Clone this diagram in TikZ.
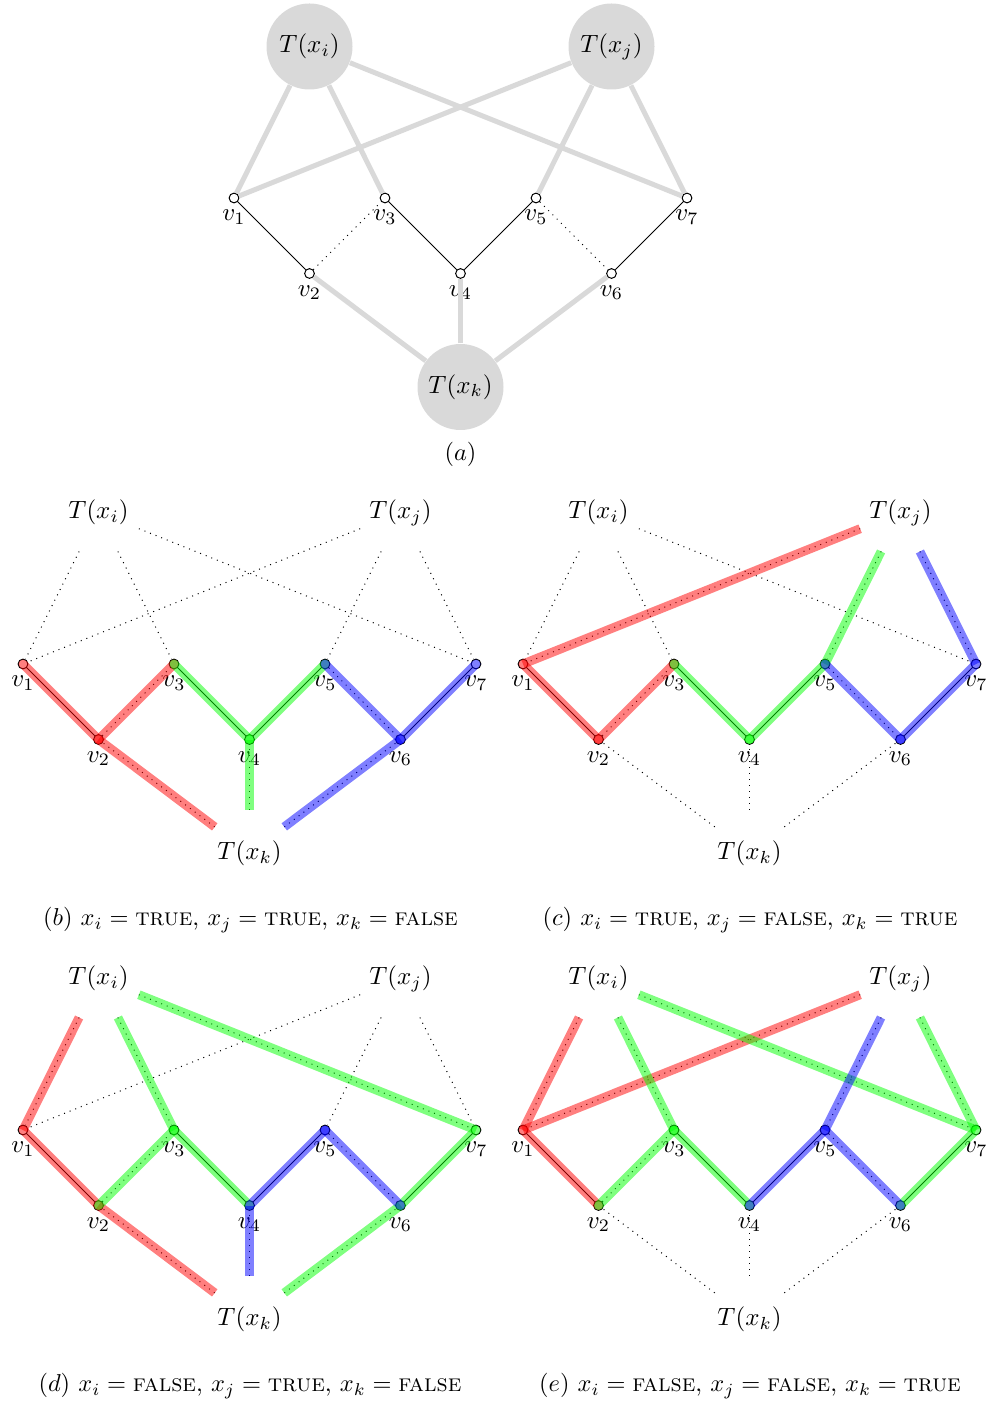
\documentclass[tikz,border=0pt]{standalone}
\usetikzlibrary{calc}
\definecolor{hlr}{rgb}{1,0,0}
\definecolor{hlg}{rgb}{0,1,0}
\definecolor{hlb}{rgb}{0,0,1}
\definecolor{tgray}{gray}{0.85}
\tikzset{
 vtx/.style={circle,draw,fill=white,inner sep=0pt,minimum size=3.9pt,line width=0.4pt},
 vlab/.style={inner sep=0pt},
 tbig/.style={circle,fill=tgray,inner sep=0pt,minimum size=34.4pt},
 tplain/.style={circle,inner sep=0pt,minimum size=34.4pt},
 gline/.style={draw=tgray,line width=2pt},
 sline/.style={line width=0.4pt},
 dline/.style={line width=0.4pt,dotted},
 hl/.style={draw=#1,draw opacity=0.5,line width=3.6pt,line cap=round},
 hlt/.style={draw=#1,draw opacity=0.5,line width=3.6pt,line cap=butt},
 capt/.style={inner sep=0pt,scale=0.976},
}
\newcommand{\vnodes}[1]{%
 \node[vtx] (#1v1) at (0,0) {};
 \node[vtx] (#1v2) at (75.5,75.5) {};
 \node[vtx] (#1v3) at (151,0) {};
 \node[vtx] (#1v4) at (226.5,75.5) {};
 \node[vtx] (#1v5) at (302,0) {};
 \node[vtx] (#1v6) at (377.5,75.5) {};
 \node[vtx] (#1v7) at (453,0) {};
 \node[vlab] (#1l1) at (0,19) {$v_1$};
 \node[vlab] (#1l2) at (75.5,94.5) {$v_2$};
 \node[vlab] (#1l3) at (151,19) {$v_3$};
 \node[vlab] (#1l4) at (226.5,94.5) {$v_4$};
 \node[vlab] (#1l5) at (302,19) {$v_5$};
 \node[vlab] (#1l6) at (377.5,94.5) {$v_6$};
 \node[vlab] (#1l7) at (453,19) {$v_7$};
}
\newcommand{\vedges}[1]{%
 \draw[sline] (#1v1) -- (#1v2);
 \draw[dline] (#1v2) -- (#1v3);
 \draw[sline] (#1v3) -- (#1v4);
 \draw[sline] (#1v4) -- (#1v5);
 \draw[dline] (#1v5) -- (#1v6);
 \draw[sline] (#1v6) -- (#1v7);
}
\newcommand{\tplainnodes}[1]{%
 \node[tplain] (#1ti) at (75.5,-151.5) {$T(x_i)$};
 \node[tplain] (#1tj) at (377.5,-151.5) {$T(x_j)$};
 \node[tplain] (#1tk) at (226.5,189) {$T(x_k)$};
 \draw[dline] (#1ti) -- (#1v1);
 \draw[dline] (#1ti) -- (#1v3);
 \draw[dline] (#1ti) -- (#1v7);
 \draw[dline] (#1tj) -- (#1v1);
 \draw[dline] (#1tj) -- (#1v5);
 \draw[dline] (#1tj) -- (#1v7);
 \draw[dline] (#1tk) -- (#1v2);
 \draw[dline] (#1tk) -- (#1v4);
 \draw[dline] (#1tk) -- (#1v6);
}
\begin{document}
\begin{tikzpicture}[x=0.4pt,y=-0.4pt]
\useasboundingbox (0,0) rectangle (991,1403);
% ---------- (a)
\begin{scope}[shift={(234,198)}]
 \node[tbig] (ati) at (75.5,-151.5) {$T(x_i)$};
 \node[tbig] (atj) at (377.5,-151.5) {$T(x_j)$};
 \node[tbig] (atk) at (226.5,189) {$T(x_k)$};
 \vnodes{a}
 \draw[gline] (ati) -- (av1);
 \draw[gline] (ati) -- (av3);
 \draw[gline] (ati) -- (av7);
 \draw[gline] (atj) -- (av1);
 \draw[gline] (atj) -- (av5);
 \draw[gline] (atj) -- (av7);
 \draw[gline] (atk) -- (av2);
 \draw[gline] (atk) -- (av4);
 \draw[gline] (atk) -- (av6);
 \vedges{a}
 \node[capt] (capa) at (226.5,256) {$(a)$};
\end{scope}
% ---------- (b)
\begin{scope}[shift={(23,664)}]
 \vnodes{b}
 \vedges{b}
 \tplainnodes{b}
 \draw[hl=hlr] (bv1.center) -- (bv2.center);
 \draw[hl=hlr] (bv2.center) -- (bv3.center);
 \draw[hlt=hlr] (bv2.center) -- (btk);
 \draw[hl=hlg] (bv3.center) -- (bv4.center);
 \draw[hl=hlg] (bv4.center) -- (bv5.center);
 \draw[hlt=hlg] (bv4.center) -- (btk);
 \draw[hl=hlb] (bv5.center) -- (bv6.center);
 \draw[hl=hlb] (bv6.center) -- (bv7.center);
 \draw[hlt=hlb] (bv6.center) -- (btk);
 \node[capt] (capb) at (227.5,256) {$(b)$ $x_i=\textsc{true}$, $x_j=\textsc{true}$, $x_k=\textsc{false}$};
\end{scope}
% ---------- (c)
\begin{scope}[shift={(523,664)}]
 \vnodes{c}
 \vedges{c}
 \tplainnodes{c}
 \draw[hlt=hlr] (cv1.center) -- (ctj);
 \draw[hl=hlr] (cv1.center) -- (cv2.center);
 \draw[hl=hlr] (cv2.center) -- (cv3.center);
 \draw[hl=hlg] (cv3.center) -- (cv4.center);
 \draw[hl=hlg] (cv4.center) -- (cv5.center);
 \draw[hlt=hlg] (cv5.center) -- (ctj);
 \draw[hl=hlb] (cv5.center) -- (cv6.center);
 \draw[hl=hlb] (cv6.center) -- (cv7.center);
 \draw[hlt=hlb] (cv7.center) -- (ctj);
 \node[capt] (capc) at (227,256) {$(c)$ $x_i=\textsc{true}$, $x_j=\textsc{false}$, $x_k=\textsc{true}$};
\end{scope}
% ---------- (d)
\begin{scope}[shift={(23,1130)}]
 \vnodes{d}
 \vedges{d}
 \tplainnodes{d}
 \draw[hlt=hlr] (dv1.center) -- (dti);
 \draw[hl=hlr] (dv1.center) -- (dv2.center);
 \draw[hlt=hlr] (dv2.center) -- (dtk);
 \draw[hlt=hlg] (dv3.center) -- (dti);
 \draw[hl=hlg] (dv2.center) -- (dv3.center);
 \draw[hl=hlg] (dv3.center) -- (dv4.center);
 \draw[hlt=hlg] (dv7.center) -- (dti);
 \draw[hl=hlg] (dv6.center) -- (dv7.center);
 \draw[hlt=hlg] (dv6.center) -- (dtk);
 \draw[hlt=hlb] (dv4.center) -- (dtk);
 \draw[hl=hlb] (dv4.center) -- (dv5.center);
 \draw[hl=hlb] (dv5.center) -- (dv6.center);
 \node[capt] (capd) at (227,256) {$(d)$ $x_i=\textsc{false}$, $x_j=\textsc{true}$, $x_k=\textsc{false}$};
\end{scope}
% ---------- (e)
\begin{scope}[shift={(523,1130)}]
 \vnodes{e}
 \vedges{e}
 \tplainnodes{e}
 \draw[hlt=hlr] (ev1.center) -- (eti);
 \draw[hlt=hlr] (ev1.center) -- (etj);
 \draw[hl=hlr] (ev1.center) -- (ev2.center);
 \draw[hlt=hlg] (ev3.center) -- (eti);
 \draw[hl=hlg] (ev2.center) -- (ev3.center);
 \draw[hl=hlg] (ev3.center) -- (ev4.center);
 \draw[hlt=hlg] (ev7.center) -- (eti);
 \draw[hlt=hlg] (ev7.center) -- (etj);
 \draw[hl=hlg] (ev6.center) -- (ev7.center);
 \draw[hl=hlb] (ev4.center) -- (ev5.center);
 \draw[hlt=hlb] (ev5.center) -- (etj);
 \draw[hl=hlb] (ev5.center) -- (ev6.center);
 \node[capt] (cape) at (227,256) {$(e)$ $x_i=\textsc{false}$, $x_j=\textsc{false}$, $x_k=\textsc{true}$};
\end{scope}
\end{tikzpicture}
\end{document}
